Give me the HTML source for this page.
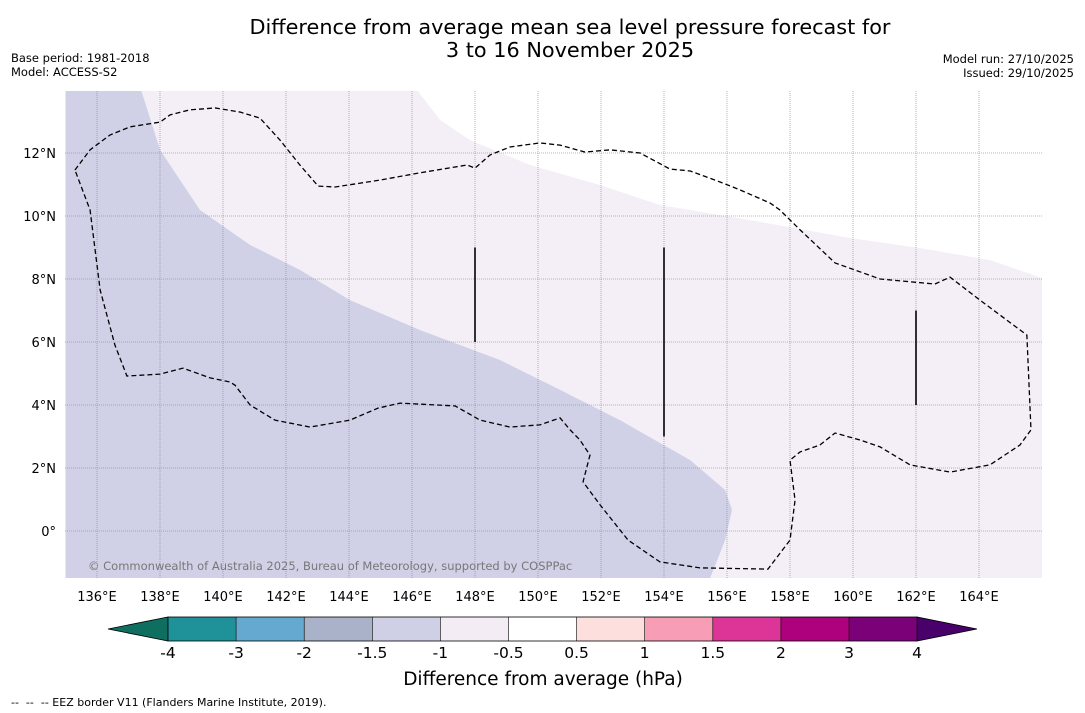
<!DOCTYPE html>
<html><head><meta charset="utf-8">
<style>
body{margin:0;background:#fff;width:1085px;height:713px;overflow:hidden;font-family:"DejaVu Sans","Liberation Sans",sans-serif;}
svg{display:block}
</style></head>
<body>
<svg id="chart" width="1085" height="713" font-family="DejaVu Sans, Liberation Sans, sans-serif">
<text x="570" y="34" text-anchor="middle" font-size="20.8">Difference from average mean sea level pressure forecast for</text>
<text x="570" y="57" text-anchor="middle" font-size="20.8">3 to 16 November 2025</text>
<text x="11" y="62" font-size="11.5">Base period: 1981-2018</text>
<text x="11" y="76" font-size="11.5">Model: ACCESS-S2</text>
<text x="1074" y="63" font-size="11.5" text-anchor="end">Model run: 27/10/2025</text>
<text x="1074" y="77" font-size="11.5" text-anchor="end">Issued: 29/10/2025</text>
<g id="map"></g>
<g id="cbar"></g>
<text x="543" y="685" text-anchor="middle" font-size="18.5">Difference from average (hPa)</text>
<text x="11" y="706" font-size="11" style="white-space:pre" xml:space="preserve">--  --  -- EEZ border V11 (Flanders Marine Institute, 2019).</text>
</svg>
<script>
const lonTicks=[136,138,140,142,144,146,148,150,152,154,156,158,160,162,164];
const latTicks=[0,2,4,6,8,10,12];
const cbBounds=[-4,-3,-2,-1.5,-1,-0.5,0.5,1,1.5,2,3,4];
const cbLabels=["-4","-3","-2","-1.5","-1","-0.5","0.5","1","1.5","2","3","4"];
const cbColors=["#1f9199","#66a9d0","#aab2c9","#cfd0e5","#f3ecf5","#ffffff","#fde0de","#f79db5","#dd3497","#ae017e","#7a0177"];
const cbExtColors=["#0e6e60","#49006a"];
const blueEdge=[[137.4,14],[138,12.1],[139.27,10.19],[140.86,9.08],[142.44,8.29],[144.03,7.33],[146.25,6.38],[148.79,5.43],[150.7,4.48],[152.6,3.52],[154.83,2.25],[155.94,1.3],[156.16,0.67],[155.94,-0.29],[155.46,-1.5]];
const whiteEdge=[[146.16,14],[146.89,13.05],[147.84,12.41],[149.75,11.62],[151.97,10.98],[153.87,10.35],[156.73,9.87],[159.9,9.3],[162.13,8.98],[164.35,8.6],[166,8.03]];
const eez=[[135.3,11.46],[135.78,12.1],[136.41,12.57],[137.05,12.83],[138,12.98],[138.32,13.21],[138.95,13.37],[139.75,13.43],[140.54,13.3],[141.17,13.11],[141.81,12.41],[142.44,11.62],[143.02,10.95],[143.56,10.92],[144.98,11.14],[146.25,11.37],[147.75,11.62],[148,11.52],[148.48,11.94],[149.11,12.19],[150.06,12.32],[150.7,12.25],[151.49,12.03],[152.29,12.1],[153.24,12],[154.19,11.49],[154.83,11.43],[155.78,11.08],[156.41,10.83],[157.37,10.41],[157.68,10.19],[158.32,9.56],[159.43,8.51],[160.86,8],[162.6,7.84],[163.08,8.06],[164.03,7.33],[165.52,6.22],[165.65,3.21],[165.3,2.73],[164.35,2.1],[163.08,1.87],[161.81,2.1],[160.86,2.67],[160.22,2.89],[159.43,3.11],[158.95,2.73],[158.32,2.51],[158,2.25],[158.16,0.98],[158,-0.29],[157.3,-1.21],[155.14,-1.17],[153.87,-0.98],[152.86,-0.29],[151.97,0.83],[151.43,1.56],[151.65,2.41],[151.33,2.89],[151.02,3.21],[150.7,3.59],[150.06,3.37],[149.11,3.3],[148.16,3.52],[147.37,3.97],[145.62,4.06],[144.92,3.9],[144.03,3.52],[142.76,3.3],[141.65,3.52],[140.86,4],[140.38,4.63],[140.22,4.73],[139.59,4.86],[138.73,5.17],[138,4.98],[136.95,4.92],[136.57,5.9],[136.1,7.65],[135.94,8.92],[135.78,10.19]];
const bars=[[148,6,9],[154,3,9],[162,4,7]];

const NS="http://www.w3.org/2000/svg";
const X0=65,X1=1042,Y0=91,Y1=578;
const xs=lon=>97+(lon-136)*31.5;
const ys=lat=>531-lat*31.5;
function mk(tag,attrs,parent){const e=document.createElementNS(NS,tag);for(const k in attrs)e.setAttribute(k,attrs[k]);parent.appendChild(e);return e;}
const map=document.getElementById('map');
const defs=mk('defs',{},map);
const cp=mk('clipPath',{id:'clip'},defs);
mk('rect',{x:X0,y:Y0,width:X1-X0,height:Y1-Y0},cp);
const g=mk('g',{'clip-path':'url(#clip)'},map);
const bg=mk('rect',{x:X0,y:Y0,width:X1-X0,height:Y1-Y0,fill:'#ffffff'},g);


let p='M'+xs(135)+','+ys(14)+' ';
whiteEdge.forEach(q=>p+='L'+xs(q[0])+','+ys(q[1])+' ');
p+='L'+xs(166)+','+ys(-1.5)+' L'+xs(135)+','+ys(-1.5)+'Z';
const lr=mk('path',{d:p,fill:'#f4eef6'},g);


p='M'+xs(135)+','+ys(14)+' ';
blueEdge.forEach(q=>p+='L'+xs(q[0])+','+ys(q[1])+' ');
p+='L'+xs(135)+','+ys(-1.5)+'Z';
const br=mk('path',{d:p,fill:'#d0d1e6'},g);


lonTicks.forEach(l=>{const ln=mk('line',{x1:xs(l),x2:xs(l),y1:Y0,y2:Y1,stroke:'#888','stroke-width':0.8,'stroke-dasharray':'1,1','stroke-opacity':0.8},g);

});
latTicks.forEach(l=>{const ln=mk('line',{x1:X0,x2:X1,y1:ys(l),y2:ys(l),stroke:'#888','stroke-width':0.8,'stroke-dasharray':'1,1','stroke-opacity':0.8},g);

});
p='M'+eez.map(q=>xs(q[0])+','+ys(q[1])).join(' L')+'Z';
const ez=mk('path',{d:p,fill:'none',stroke:'#000','stroke-width':1.3,'stroke-dasharray':'5,3'},g);


bars.forEach(b=>{const ln=mk('line',{x1:xs(b[0]),x2:xs(b[0]),y1:ys(b[2]),y2:ys(b[1]),stroke:'#000','stroke-width':1.6},g);

});
const cr=mk('text',{x:88,y:570,'font-size':11.5,fill:'#777'},g);
cr.textContent='© Commonwealth of Australia 2025, Bureau of Meteorology, supported by COSPPac';


lonTicks.forEach(l=>{const t=mk('text',{x:xs(l),y:601,'font-size':13,'text-anchor':'middle'},map);t.textContent=l+'°E';

});
latTicks.forEach(l=>{const t=mk('text',{x:56,y:ys(l)+5,'font-size':13,'text-anchor':'end'},map);t.textContent=l===0?'0°':l+'°N';

});
const cb=document.getElementById('cbar');
const CX0=168,CW=68.1,CY=617,CH=24;
const cx=i=>CX0+i*CW;
const n=cbBounds.length-1;
const tl=mk('polygon',{points:`108,${CY+CH/2} ${cx(0)},${CY} ${cx(0)},${CY+CH}`,fill:cbExtColors[0],stroke:'#000','stroke-width':0.8},cb);


const tr=mk('polygon',{points:`977,${CY+CH/2} ${cx(n)},${CY} ${cx(n)},${CY+CH}`,fill:cbExtColors[1],stroke:'#000','stroke-width':0.8},cb);


cbColors.forEach((c,i)=>{const r=mk('rect',{x:cx(i),y:CY,width:CW,height:CH,fill:c},cb);


if(i>0)mk('line',{x1:cx(i),x2:cx(i),y1:CY,y2:CY+CH,stroke:'#000','stroke-width':0.6},cb);});
mk('rect',{x:cx(0),y:CY,width:cx(n)-cx(0),height:CH,fill:'none',stroke:'#000','stroke-width':0.8},cb);
cbLabels.forEach((s,i)=>{const t=mk('text',{x:cx(i),y:658,'font-size':15.5,'text-anchor':'middle'},cb);t.textContent=s;

});
</script>
</body></html>
